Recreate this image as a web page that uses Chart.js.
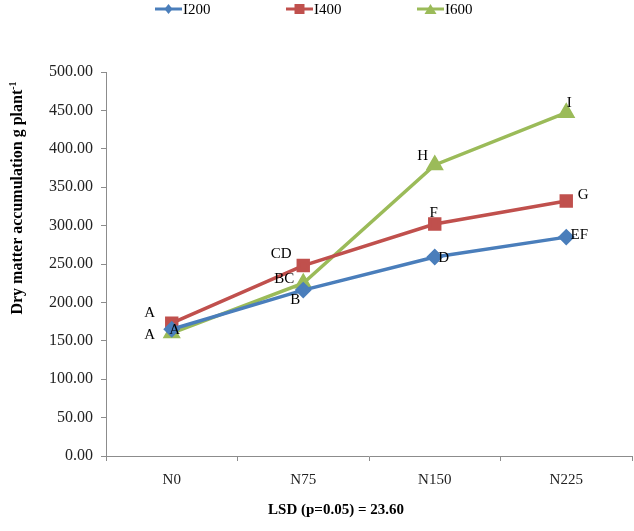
<!DOCTYPE html>
<html>
<head>
<meta charset="utf-8">
<script src="https://cdn.jsdelivr.net/npm/chart.js@4.4.0/dist/chart.umd.min.js"></script>
<style>
  html, body { margin: 0; padding: 0; background: #fff; overflow: hidden; }
  canvas { display: block; }
</style>
</head>
<body>
<canvas id="grafico" width="634" height="531"></canvas>
<script>
// datos
const categorias = ['N0', 'N75', 'N150', 'N225'];
const serieI200 = [165, 216, 259, 285];
const serieI400 = [173, 248, 302, 332];
const serieI600 = [160, 225, 379, 447];
const letrasI200 = ['A', 'B', 'D', 'EF'];
const letrasI400 = ['A', 'CD', 'F', 'G'];
const letrasI600 = ['A', 'BC', 'H', 'I'];
const ticksY = [0, 50, 100, 150, 200, 250, 300, 350, 400, 450, 500];

const serif = '"Liberation Serif", "Times New Roman", serif';

// desplazamiento de cada letra respecto a su punto (px)
const desplazamientos = [
    [[3, 1], [-8, 10], [9, 1], [13, -2]],
    [[-22, -10], [-22, -11], [-1, -11], [17, -6]],
    [[-22, 2], [-19, -4], [-12, -9], [3, -10]]
];

const letras = [letrasI200, letrasI400, letrasI600];

const pluginTextos = {
    id: 'textos',
    afterDatasetsDraw(chart) {
        const ctx = chart.ctx;
        ctx.save();
        // letras de significancia
        ctx.fillStyle = '#000';
        ctx.font = '15px ' + serif;
        ctx.textAlign = 'center';
        ctx.textBaseline = 'middle';
        chart.data.datasets.forEach((ds, i) => {
            const meta = chart.getDatasetMeta(i);
            meta.data.forEach((pt, j) => {
                const d = desplazamientos[i][j];
                ctx.fillText(letras[i][j], pt.x + d[0], pt.y + d[1]);
            });
        });

        // leyenda arriba: linea + marcador + texto
        const posLeyenda = [155, 286, 417];
        chart.data.datasets.forEach((ds, i) => {
            const x = posLeyenda[i];
            const y = 9;
            ctx.strokeStyle = ds.borderColor;
            ctx.lineWidth = 3;
            ctx.beginPath();
            ctx.moveTo(x, y);
            ctx.lineTo(x + 27, y);
            ctx.stroke();
            ctx.fillStyle = ds.borderColor;
            const cx = x + 13.5;
            ctx.beginPath();
            if (ds.pointStyle === 'rectRot') {
                ctx.moveTo(cx, y - 5); ctx.lineTo(cx + 4, y); ctx.lineTo(cx, y + 5); ctx.lineTo(cx - 4, y);
            } else if (ds.pointStyle === 'rect') {
                ctx.rect(cx - 5, y - 5, 10, 10);
            } else {
                ctx.moveTo(cx, y - 5); ctx.lineTo(cx + 6, y + 5); ctx.lineTo(cx - 6, y + 5);
            }
            ctx.closePath();
            ctx.fill();
            ctx.fillStyle = '#000';
            ctx.font = '15px ' + serif;
            ctx.textAlign = 'left';
            ctx.fillText(ds.label, x + 28, y + 1);
        });

        // titulo eje Y con superindice
        ctx.save();
        ctx.translate(17, 198);
        ctx.rotate(-Math.PI / 2);
        ctx.fillStyle = '#000';
        ctx.textBaseline = 'alphabetic';
        ctx.font = 'bold 16px ' + serif;
        const principal = 'Dry matter accumulation g plant';
        const ancho = ctx.measureText(principal).width;
        ctx.font = 'bold 10px ' + serif;
        const anchoSup = ctx.measureText('-1').width;
        const inicio = -(ancho + anchoSup) / 2;
        ctx.textAlign = 'left';
        ctx.font = 'bold 16px ' + serif;
        ctx.fillText(principal, inicio, 5);
        ctx.font = 'bold 10px ' + serif;
        ctx.fillText('-1', inicio + ancho, -1);
        ctx.restore();

        // texto LSD abajo
        ctx.fillStyle = '#000';
        ctx.font = 'bold 15px ' + serif;
        ctx.textAlign = 'center';
        ctx.fillText('LSD (p=0.05) = 23.60', 336, 510);
        ctx.restore();
    }
};

const data = {
    labels: categorias,
    datasets: [
        {
            label: 'I200',
            data: serieI200,
            borderColor: '#4A7EBB',
            backgroundColor: '#4A7EBB',
            borderWidth: 3.5,
            pointStyle: 'rectRot',
            pointRadius: 6,
            pointHoverRadius: 6,
            tension: 0
        },
        {
            label: 'I400',
            data: serieI400,
            borderColor: '#C0504D',
            backgroundColor: '#C0504D',
            borderWidth: 3.5,
            pointStyle: 'rect',
            pointRadius: 7,
            pointHoverRadius: 7,
            tension: 0
        },
        {
            label: 'I600',
            data: serieI600,
            borderColor: '#9BBB59',
            backgroundColor: '#9BBB59',
            borderWidth: 3.5,
            pointStyle: 'triangle',
            pointRadius: 7,
            pointHoverRadius: 7,
            tension: 0
        }
    ]
};

const config = {
    type: 'line',
    data: data,
    options: {
        responsive: false,
        animation: false,
        layout: { autoPadding: false, padding: { top: 72, right: 2, bottom: 0, left: 0 } },
        plugins: {
            legend: { display: false },
            title: { display: false },
            tooltip: { enabled: false }
        },
        scales: {
            x: {
                offset: true,
                grid: {
                    offset: true,
                    drawOnChartArea: false,
                    color: '#8C8C8C',
                    tickLength: 5
                },
                border: { color: '#8C8C8C', width: 1 },
                ticks: {
                    color: '#222',
                    font: { family: serif, size: 15 },
                    padding: 10
                },
                afterFit(scale) { scale.height = 75; }
            },
            y: {
                min: 0,
                max: 500,
                afterBuildTicks(scale) {
                    scale.ticks = ticksY.map(v => ({ value: v }));
                },
                grid: {
                    drawOnChartArea: false,
                    color: '#8C8C8C',
                    tickLength: 5
                },
                border: { color: '#8C8C8C', width: 1 },
                ticks: {
                    color: '#222',
                    font: { family: serif, size: 16 },
                    padding: 8,
                    callback: v => v.toFixed(2)
                },
                afterFit(scale) { scale.width = 106; }
            }
        }
    },
    plugins: [pluginTextos]
};

const ctx = document.getElementById('grafico').getContext('2d');
new Chart(ctx, config);
</script>
</body>
</html>
